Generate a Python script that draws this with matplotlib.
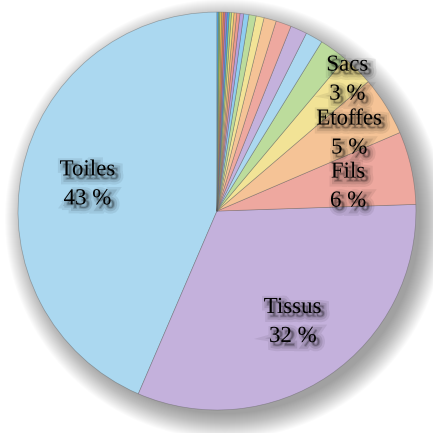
import matplotlib
matplotlib.use("Agg")
import matplotlib.pyplot as plt
import matplotlib.patheffects as pe
from matplotlib.patches import Circle
import numpy as np

# share of each product (%), biggest first, small unnamed ones at the end
labels = ["Toiles", "Tissus", "Fils", "Etoffes", "Sacs"]
pct_text = ["43 %", "32 %", "6 %", "5 %", "3 %"]
values = [43.4, 31.9, 5.9, 4.8, 2.6, 2.3, 1.4, 1.35, 1.25, 1.0, 0.65, 0.58, 0.42,
          0.3, 0.26, 0.22, 0.2, 0.18, 0.17, 0.16, 0.15, 0.14, 0.13, 0.12, 0.11]

# colour cycle: blue, purple, red, orange, yellow, green (gets stronger for the tiny ones)
pastel = ["#abd8f0", "#c4b1dc", "#eea89f", "#f5c396", "#f2e396", "#bcdc9c"]
medium = ["#8fcdf0", "#b6a0dc", "#ec9990", "#f3b47e", "#eedc7c", "#a9d68a"]
strong = ["#4fa9e6", "#9c7fd4", "#e8776b", "#f0a055", "#e6d150", "#86c763"]
colors = []
for i in range(len(values)):
    pal = pastel if i < 12 else (medium if i < 18 else strong)
    colors.append(pal[i % 6])

plt.rcParams["font.family"] = "serif"
plt.rcParams["font.serif"] = ["Liberation Serif", "DejaVu Serif"]

fig = plt.figure(figsize=(4.33, 4.33), dpi=100)
ax = fig.add_axes([0.0416, 0.0531, 0.919, 0.919])
ax.axis("off")

# soft drop shadow toward bottom-right
for k in range(26):
    r = 0.98 + 0.005 * k
    ax.add_patch(Circle((0.04, -0.04), r, color="black", alpha=0.015,
                        lw=0, zorder=0, clip_on=False))

wedges, _ = ax.pie(values, colors=colors, startangle=90, counterclock=True,
                   radius=1.0,
                   wedgeprops=dict(edgecolor=(0.35, 0.35, 0.35, 0.45), linewidth=0.5))
for w in wedges:
    w.set_zorder(2)
    w.set_clip_on(False)

ax.set_xlim(-1, 1)
ax.set_ylim(-1, 1)
ax.set_aspect("equal")

# label placement: fraction of radius and small angular nudge (deg)
dist = [0.665, 0.675, 0.67, 0.77, 0.93]
nudge = [0, 0, -2, -1.5, 0]
off = (2.5, -2.5)
shadow = [pe.PathPatchEffect(offset=off, facecolor=(0, 0, 0, 0.06),
                             edgecolor=(0, 0, 0, 0.07), linewidth=8),
          pe.PathPatchEffect(offset=off, facecolor=(0, 0, 0, 0.08),
                             edgecolor=(0, 0, 0, 0.1), linewidth=4.5),
          pe.PathPatchEffect(offset=off, facecolor=(0, 0, 0, 0.14),
                             edgecolor=(0, 0, 0, 0.14), linewidth=1.5),
          pe.Normal()]
for i, lab in enumerate(labels):
    w = wedges[i]
    ang = np.deg2rad((w.theta1 + w.theta2) / 2 + nudge[i])
    d = dist[i]
    ax.text(d * np.cos(ang), d * np.sin(ang), lab + "\n" + pct_text[i],
            ha="center", va="center", fontsize=16.5,
            linespacing=1.5, color="black", zorder=5, path_effects=shadow)

fig.savefig("out.png", dpi=100, facecolor="white")
